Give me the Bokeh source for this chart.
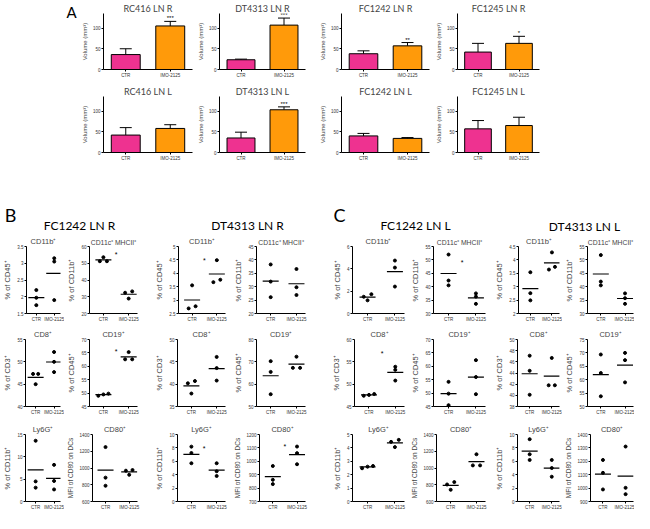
from bokeh.plotting import figure
from bokeh.layouts import column, row
from bokeh.models import (ColumnDataSource, FixedTicker, Range1d, FactorRange,
                          Whisker, TeeHead, Spacer, Label)
from bokeh.core.properties import value
from bokeh.embed import file_html
from bokeh.resources import INLINE

# ---------------- data ----------------
groups = ["CTR", "IMO-2125"]

# Panel A: tumour-draining lymph node volume (mm^3), mean and upper error
vol_titles_r = ["RC416 LN R", "DT4313 LN R", "FC1242 LN R", "FC1245 LN R"]
vol_mean_r = [[36, 105], [23.5, 107], [38, 57], [42, 63]]
vol_err_r = [[50, 116], [25, 124], [45, 65], [63, 80]]
vol_sig_r = ["***", "***", "**", "*"]

vol_titles_l = ["RC416 LN L", "DT4313 LN L", "FC1242 LN L", "FC1245 LN L"]
vol_mean_l = [[42, 58], [35, 103], [40, 34], [57, 65]]
vol_err_l = [[60, 67], [49, 110], [46, 36], [77, 85]]
vol_sig_l = ["", "***", "", ""]
vol_ticks = [0, 50, 100]

# Panels B and C: flow cytometry, 3 mice per group
panel_letters = ["A", "B", "C"]
group_titles = ["FC1242 LN R", "DT4313 LN R", "FC1242 LN L", "DT4313 LN L"]
cell_titles = ["CD11b⁺", "CD11c⁺ MHCII⁺", "CD11b⁺", "CD11c⁺ MHCII⁺",
               "CD8⁺", "CD19⁺", "CD8⁺", "CD19⁺",
               "Ly6G⁺", "CD80⁺", "Ly6G⁺", "CD80⁺"]
cell_ylabels = ["% of CD45⁺", "% of CD11b⁺", "% of CD45⁺", "% of CD11b⁺",
                "% of CD3⁺", "% of CD45⁺", "% of CD3⁺", "% of CD45⁺",
                "% of CD11b⁺", "MFI of CD80 on DCs", "% of CD11b⁺", "MFI of CD80 on DCs"]

B_ticks = [[1.5, 2.0, 2.5, 3.0, 3.5], [20, 30, 40, 50, 60], [2.5, 3.0, 3.5, 4.0, 4.5, 5.0], [20, 25, 30, 35, 40, 45],
           [40, 45, 50, 55], [45, 50, 55, 60, 65, 70], [35, 40, 45, 50], [50, 60, 70, 80],
           [0, 5, 10, 15], [600, 800, 1000, 1200, 1400], [0, 2, 4, 6, 8, 10], [700, 800, 900, 1000, 1100, 1200]]
B_ctr = [[2.2, 1.97, 1.75], [53.6, 51.2, 51.2], [3.55, 2.69, 2.77], [38.3, 31.9, 26.1],
         [47.3, 47.3, 45.0], [49.8, 49.0, 49.5], [40.7, 40.2, 37.9], [70.3, 65.5, 55.5],
         [13.6, 4.5, 3.1], [1250, 885, 788], [8.19, 7.24, 5.71], [965, 862, 830]]
B_imo = [[3.15, 3.05, 1.9], [33.2, 32.4, 28.9], [4.49, 3.76, 3.67], [36.6, 29.8, 26.9],
         [52.2, 50.0, 47.7], [65.3, 62.6, 62.6], [46.1, 43.6, 40.8], [72.3, 67.3, 67.3],
         [8.2, 4.6, 2.7], [976, 968, 919], [5.71, 4.52, 3.81], [1110, 1061, 978]]
B_star = [None, 55, 4.49, None, None, 65.5, None, None, None, None, 7.95, 1112]

C_ticks = [[0, 2, 4, 6], [30, 35, 40, 45, 50, 55], [2.0, 2.5, 3.0, 3.5, 4.0, 4.5], [30, 35, 40, 45, 50, 55],
           [45, 50, 55, 60], [45, 50, 55, 60, 65, 70], [38, 40, 42, 44, 46, 48, 50], [50, 55, 60, 65, 70, 75],
           [0, 1, 2, 3, 4, 5], [600, 800, 1000, 1200, 1400], [0, 2, 4, 6, 8, 10], [900, 1000, 1100, 1200, 1300, 1400]]
C_ctr = [[1.73, 1.5, 1.18], [52.0, 42.3, 40.5], [3.54, 2.76, 2.49], [51.8, 41.9, 40.5],
         [47.8, 47.6, 47.4], [54.2, 49.8, 45.5], [47.1, 44.4, 40.1], [69.4, 62.5, 53.8],
         [2.65, 2.48, 2.6], [832, 803, 740], [9.3, 7.05, 6.2], [1210, 1114, 990]]
C_imo = [[4.74, 4.11, 2.41], [37.5, 36.3, 33.6], [4.28, 3.74, 3.64], [37.5, 35.7, 33.6],
         [53.9, 53.2, 50.8], [62.3, 56.0, 49.6], [46.7, 41.8, 41.8], [70.0, 67.3, 59.0],
         [4.6, 4.45, 4.06], [1164, 1031, 1031], [6.2, 5.0, 3.7], [1310, 1002, 955]]
C_star = [None, 49.2, None, None, 56.9, None, None, None, None, None, None, None]

# ---------------- style ----------------
PINK = "#EE3290"
ORANGE = "#FF9A0A"
TITLE_FONT = "Lato"
AX_FONT = "Liberation Sans"


def base_axes(p, tick_size):
    for ax in (p.xaxis[0], p.yaxis[0]):
        ax.axis_line_color = "black"
        ax.axis_line_width = 1
        ax.major_tick_line_color = "black"
        ax.major_tick_in = 0
        ax.major_tick_out = 2
        ax.minor_tick_line_color = None
        ax.major_label_text_font = AX_FONT
        ax.major_label_text_font_size = tick_size
        ax.major_label_text_color = "#333333"
        ax.major_label_standoff = 1
    p.xgrid.visible = False
    p.ygrid.visible = False
    p.outline_line_color = None


def bar_chart(title, means, errs, sig, width, left, right):
    p = figure(width=width, height=80, x_range=FactorRange(factors=groups),
               y_range=Range1d(0, 135), output_backend="svg", toolbar_location=None,
               min_border_left=left, min_border_right=right,
               min_border_top=10, min_border_bottom=11, title=title)
    p.title.align = "center"
    p.title.text_font = TITLE_FONT
    p.title.text_font_size = "9px"
    p.title.text_font_style = "normal"
    p.title.standoff = 0
    src = ColumnDataSource(dict(x=groups, top=means, err=errs,
                                color=[PINK, ORANGE], sig=["", sig]))
    p.vbar(x="x", top="top", width=0.65, fill_color="color", line_color="black",
           line_width=1, source=src)
    p.add_layout(Whisker(source=src, base="x", lower="top", upper="err",
                         dimension="height", line_color="black", line_width=1,
                         upper_head=TeeHead(size=12, line_color="black", line_width=1),
                         lower_head=None))
    p.text(x="x", y="err", text="sig", source=src, text_align="center",
           text_baseline="bottom", text_font_size="6px",
           text_font=value(AX_FONT), text_color="black")
    base_axes(p, "4.5px")
    p.yaxis.ticker = FixedTicker(ticks=vol_ticks)
    p.yaxis.axis_label = "Volume (mm³)"
    p.yaxis.axis_label_text_font = AX_FONT
    p.yaxis.axis_label_text_font_size = "6px"
    p.yaxis.axis_label_text_font_style = "normal"
    p.yaxis.axis_label_standoff = 2
    return p


def jitter(vals, span):
    order = sorted(range(len(vals)), key=lambda i: vals[i])
    offs = [0.0] * len(vals)
    clusters, cur = [], [order[0]]
    for a, b in zip(order, order[1:]):
        if vals[b] - vals[a] < 0.045 * span:
            cur.append(b)
        else:
            clusters.append(cur)
            cur = [b]
    clusters.append(cur)
    for c in clusters:
        if len(c) == 2:
            offs[c[0]], offs[c[1]] = -0.14, 0.14
        elif len(c) >= 3:
            for k, i in enumerate(c):
                offs[i] = -0.2 + 0.4 * k / (len(c) - 1)
    return offs


def scatter_chart(title, ylabel, ticks, ctr, imo, star, width, left, right):
    lo, hi = ticks[0], ticks[-1]
    span = hi - lo
    p = figure(width=width, height=90, x_range=Range1d(-0.55, 1.35),
               y_range=Range1d(lo, hi), output_backend="svg", toolbar_location=None,
               min_border_left=left, min_border_right=right,
               min_border_top=10, min_border_bottom=10, title=title)
    p.title.align = "center"
    p.title.text_font = AX_FONT
    p.title.text_font_size = "6.8px" if "MHCII" in title else "7.5px"
    p.title.text_font_style = "normal"
    p.title.standoff = 1
    xs, ys = [], []
    for gi, vals in enumerate([ctr, imo]):
        for v, o in zip(vals, jitter(vals, span)):
            xs.append(gi + o)
            ys.append(v)
    p.scatter(xs, ys, size=3.0, color="black")
    means = [sum(ctr) / len(ctr), sum(imo) / len(imo)]
    p.scatter([0, 1], means, marker="dash", size=16, line_color="black", line_width=1.2)
    if star is not None:
        p.text(x=[0.5], y=[star], text=["*"], text_align="center", text_baseline="middle",
               text_font_size="7px", text_font=value(AX_FONT), text_color="black")
    base_axes(p, "4.5px")
    p.xaxis.ticker = FixedTicker(ticks=[0, 1])
    p.xaxis.major_label_overrides = {0: groups[0], 1: groups[1]}
    p.yaxis.ticker = FixedTicker(ticks=ticks)
    p.yaxis.axis_label = ylabel
    p.yaxis.axis_label_text_font = AX_FONT
    p.yaxis.axis_label_text_font_size = "6.5px" if ylabel.startswith("MFI") else "7.5px"
    p.yaxis.axis_label_text_font_style = "normal"
    p.yaxis.axis_label_standoff = 2
    return p


def title_fig(text, width, height, size, loc):
    """A figure without axes whose only content is its title (a heading)."""
    p = figure(width=width, height=height, x_range=Range1d(0, 1), y_range=Range1d(0, 1),
               x_axis_type=None, y_axis_type=None, output_backend="svg",
               toolbar_location=None, min_border_left=0, min_border_right=0,
               min_border_top=0, min_border_bottom=0, outline_line_color=None,
               title=text, title_location=loc)
    p.title.align = "center"
    p.title.text_font = TITLE_FONT
    p.title.text_font_size = size
    p.title.text_font_style = "normal"
    p.title.text_color = "black"
    p.title.standoff = 0
    return p


# ---------------- panel A ----------------
bw = [116, 122, 116, 120]
bl = [22, 20, 21, 20]
br = [2, 11, 3, 13]

a_col = row(Spacer(width=64, height=80), title_fig(panel_letters[0], 14, 80, "15px", "above"))

row_a1 = row([a_col] + [bar_chart(vol_titles_r[i], vol_mean_r[i], vol_err_r[i], vol_sig_r[i],
                                  bw[i], bl[i], br[i]) for i in range(4)]
             + [Spacer(width=82, height=80)])
row_a2 = row([Spacer(width=78, height=80)]
             + [bar_chart(vol_titles_l[i], vol_mean_l[i], vol_err_l[i], vol_sig_l[i],
                          bw[i], bl[i], br[i]) for i in range(4)]
             + [Spacer(width=82, height=80)])

# ---------------- header for B / C (page-pixel coordinate frame) ----------------
hdr = figure(width=634, height=71, x_range=Range1d(8, 642), y_range=Range1d(242, 171),
             x_axis_type=None, y_axis_type=None, output_backend="svg",
             toolbar_location=None, title_location=None,
             min_border_left=0, min_border_right=0, min_border_top=0, min_border_bottom=0,
             outline_line_color=None)
for lx, lt in zip([18, 347], panel_letters[1:]):
    hdr.add_layout(Label(x=lx, y=222, text=lt, text_align="center", text_baseline="middle",
                         text_font=TITLE_FONT, text_font_size="18px", text_color="black"))
for lx, ly, lt in zip([87, 255, 423, 592], [233, 233, 233, 234], group_titles):
    hdr.add_layout(Label(x=lx, y=ly, text=lt, text_align="center", text_baseline="middle",
                         text_font=TITLE_FONT, text_font_size="12px", text_color="black"))

# ---------------- panels B and C ----------------
sw = [64, 88, 79, 98, 79, 84, 70, 72]
sl = [21, 23, 23, 23, 23, 23, 23, 23]
sr = [4, 15, 6, 24, 4, 7, 3, 1]

rows_bc = []
for r in range(3):
    kids = []
    for c in range(8):
        k = r * 4 + (c % 4)
        if c < 4:
            p = scatter_chart(cell_titles[k], cell_ylabels[k], B_ticks[k], B_ctr[k], B_imo[k],
                              B_star[k], sw[c], sl[c], sr[c])
        else:
            p = scatter_chart(cell_titles[k], cell_ylabels[k], C_ticks[k], C_ctr[k], C_imo[k],
                              C_star[k], sw[c], sl[c], sr[c])
        kids.append(p)
    rows_bc.append(row(kids))

layout = column(row_a1, Spacer(width=634, height=3), row_a2, hdr,
                rows_bc[0], Spacer(width=634, height=3), rows_bc[1],
                Spacer(width=634, height=5), rows_bc[2])

open("out.html", "w").write(file_html(layout, INLINE))
